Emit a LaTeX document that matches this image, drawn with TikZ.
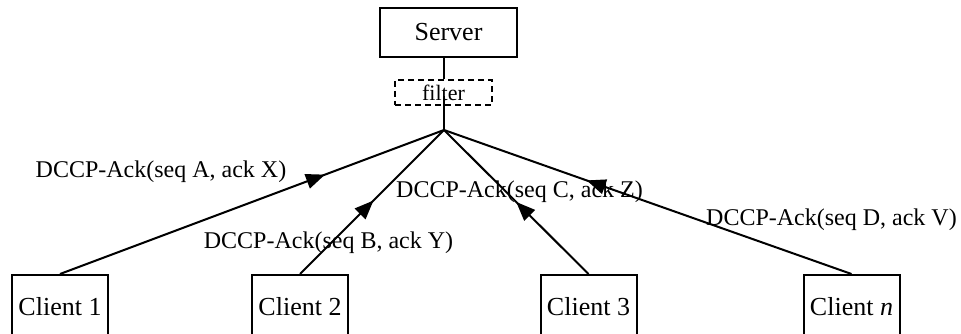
\documentclass[tikz,border=0pt]{standalone}
\usepackage{fontspec}
\setmainfont{Liberation Serif}
\usetikzlibrary{arrows.meta,decorations.markings}
\begin{document}
\begin{tikzpicture}[x=1pt,y=-1pt,
  every node/.style={font=\fontsize{24}{28}\selectfont},
  box/.style={draw,line width=2pt,inner sep=0pt,font=\fontsize{26}{30}\selectfont},
  clientbox/.style={box,anchor=north,minimum width=96pt,minimum height=64pt,text depth=2pt},
  link/.style={line width=2pt},
  midarrow/.style={link,postaction={decorate},decoration={markings,
     mark=at position #1 with {\arrow{Triangle[length=19pt,width=15pt]}}}},
  lbl/.style={inner sep=0pt}]
\useasboundingbox (0,0) rectangle (961,334);
\clip (0,0) rectangle (961,334);

% server and filter
\node[box,minimum width=137pt,minimum height=49pt] (server) at (448.5,32.5) {Server};
\node[draw,line width=1.5pt,dash pattern=on 6pt off 4pt,minimum width=97pt,minimum height=25pt,
      inner sep=0pt,font=\fontsize{22}{26}\selectfont] (filter) at (443.5,92.5) {filter};
\coordinate (j) at (444,130);

\draw[link] (server.south -| j) -- (filter.north -| j);
\draw[link] ([yshift=-4pt]filter.center -| j) -- (j);

% clients
\node[clientbox] (c1) at (60,274) {Client 1};
\node[clientbox] (c2) at (300,274) {Client 2};
\node[clientbox] (c3) at (588.5,274) {Client 3};
\node[clientbox] (cn) at (851.5,274) {Client \textit{n}};

% acknowledgements sent up to the filter
\draw[midarrow=0.69] (c1.north) -- (j);
\draw[midarrow=0.51] (c2.north) -- (j);
\draw[midarrow=0.50] (c3.north) -- (j);
\draw[midarrow=0.65] (cn.north) -- (j);

% labels
\node[lbl] (la) at (161,172) {DCCP-Ack(seq A, ack X)};
\node[lbl] (lb) at (328.5,243) {DCCP-Ack(seq B, ack Y)};
\node[lbl] (lc) at (519.5,192) {DCCP-Ack(seq C, ack Z)};
\node[lbl] (ld) at (831.5,220) {DCCP-Ack(seq D, ack V)};
\end{tikzpicture}
\end{document}
